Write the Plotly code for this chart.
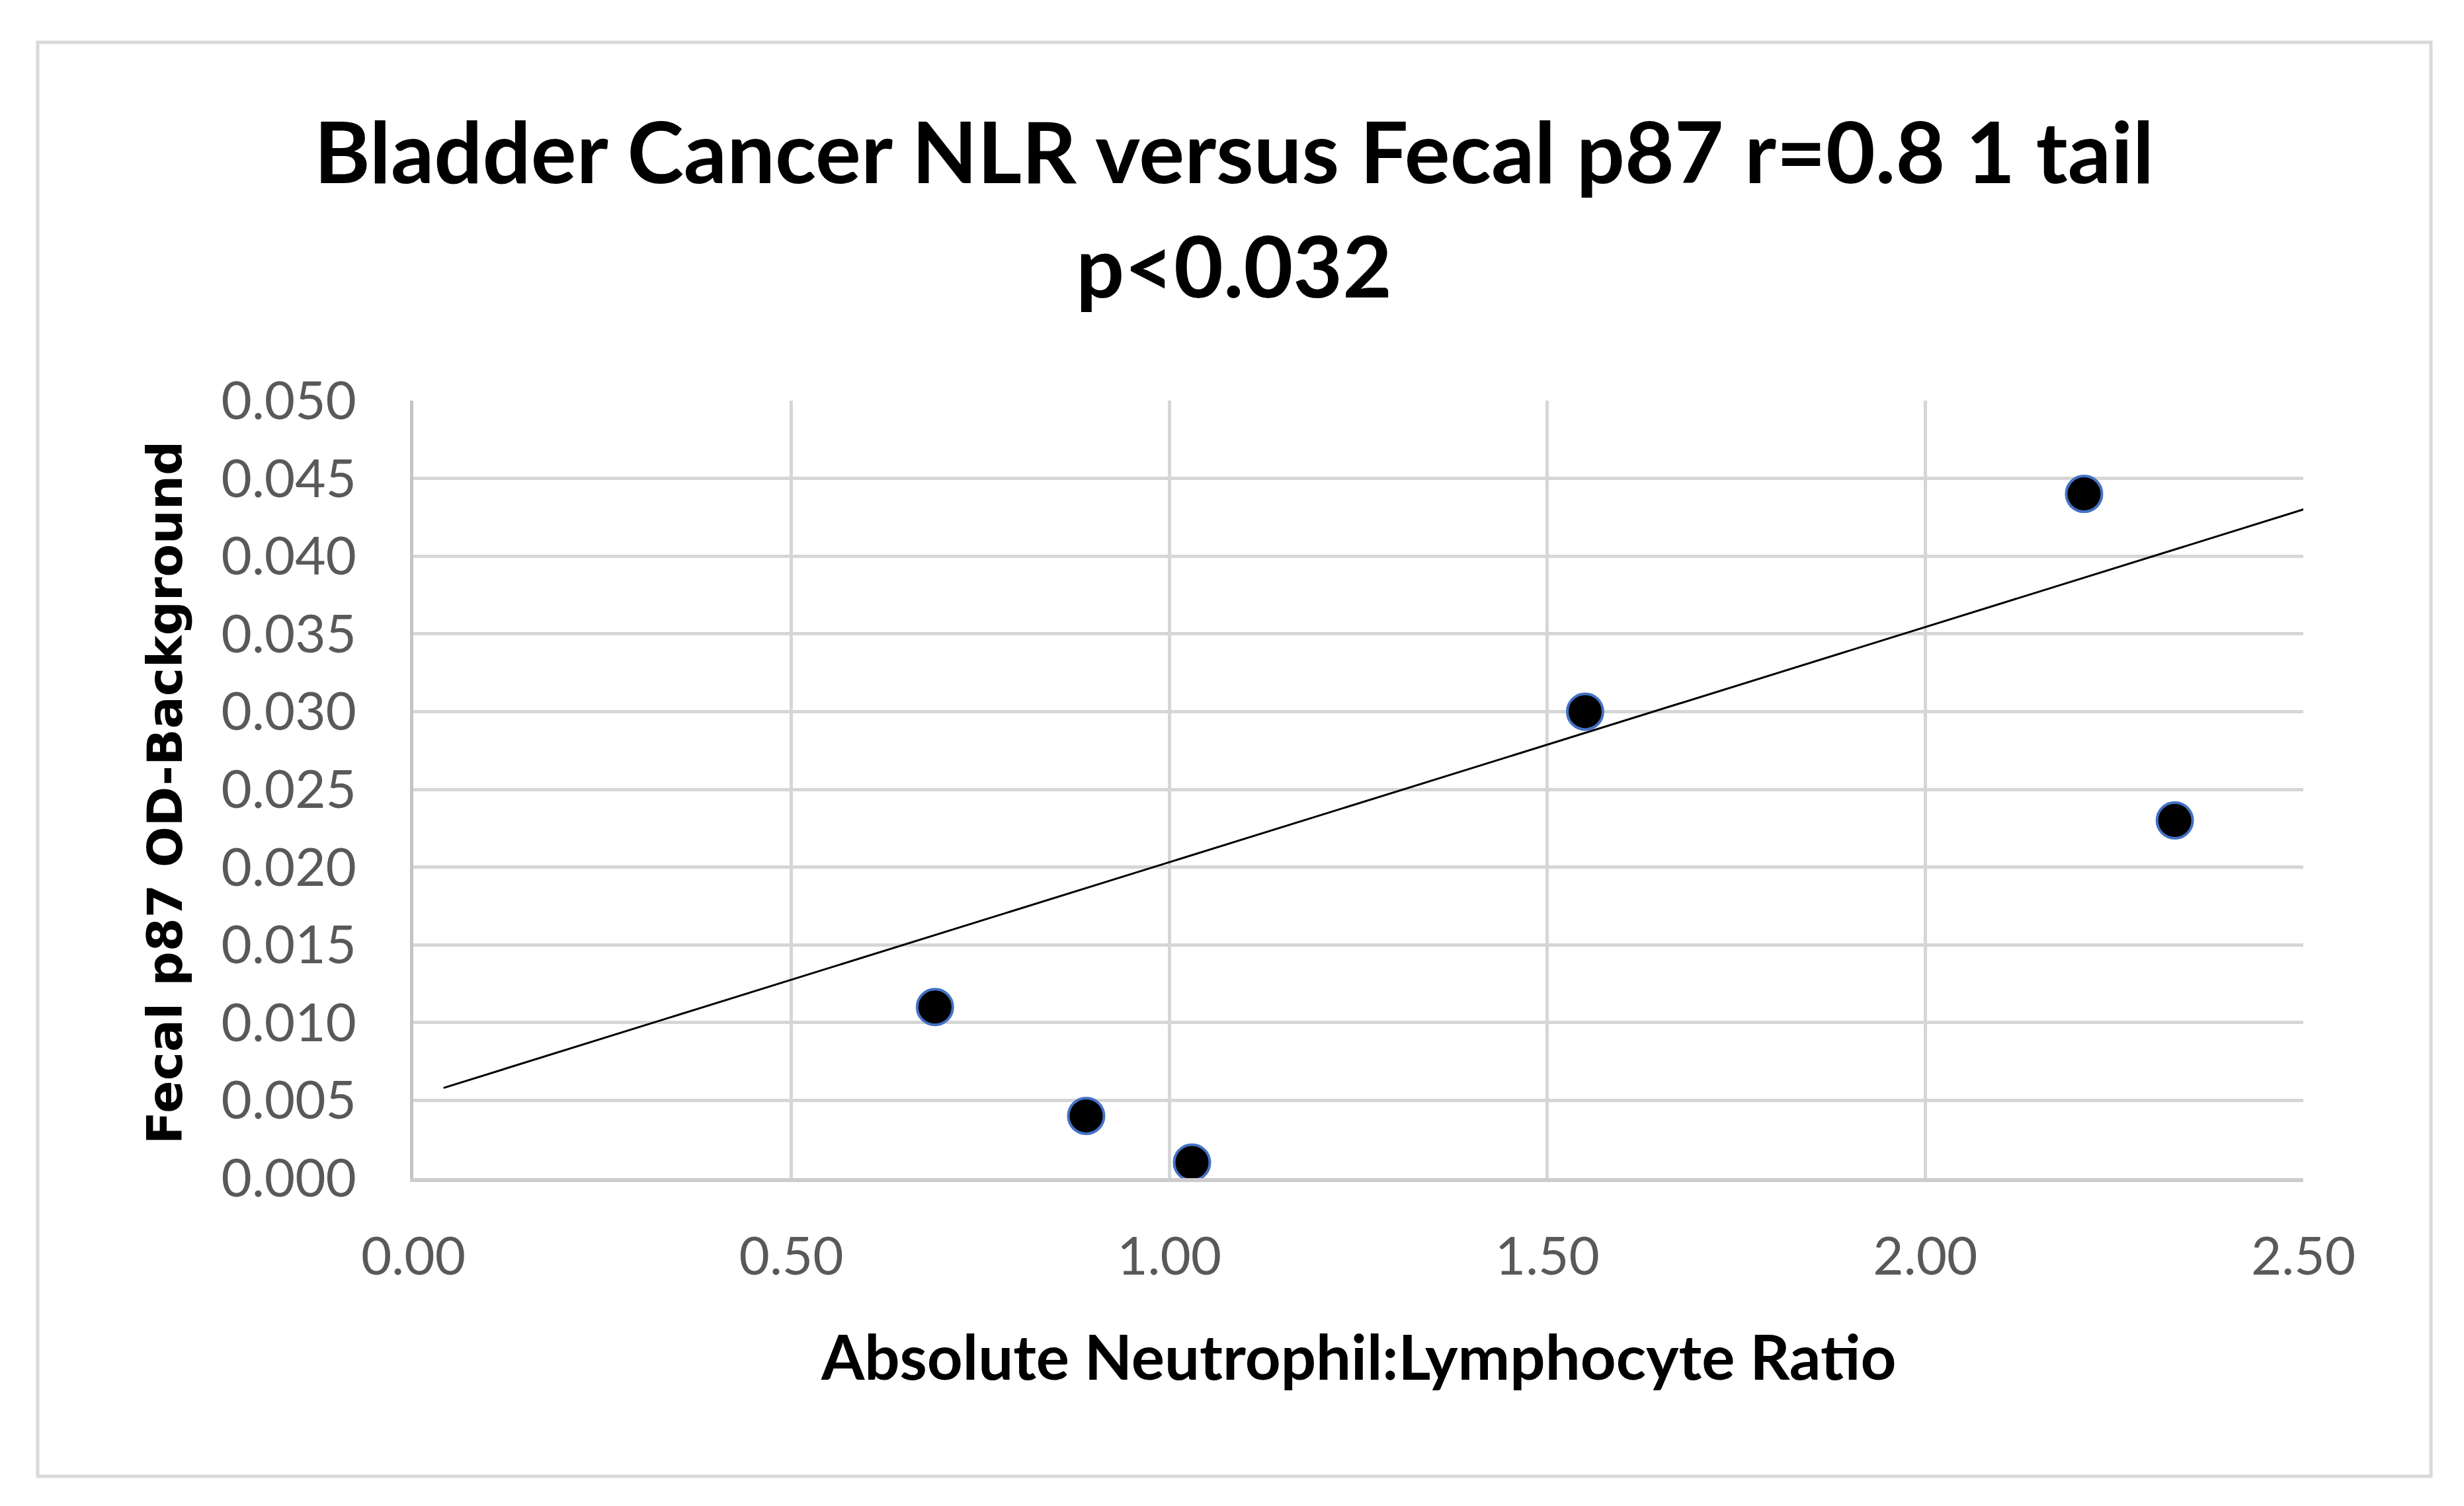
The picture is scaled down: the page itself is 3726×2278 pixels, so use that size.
import plotly.graph_objects as go

# ---- data ----
nlr = [0.69, 0.89, 1.03, 1.55, 2.21, 2.33]
p87 = [0.011, 0.004, 0.001, 0.030, 0.044, 0.023]

trend_x = [0.04, 2.52]
trend_y = [0.0058, 0.0433]

x_ticks = [0.0, 0.5, 1.0, 1.5, 2.0, 2.5]
x_tick_labels = ["0.00", "0.50", "1.00", "1.50", "2.00", "2.50"]
y_ticks = [0.000, 0.005, 0.010, 0.015, 0.020, 0.025, 0.030, 0.035, 0.040, 0.045, 0.050]
y_tick_labels = ["0.000", "0.005", "0.010", "0.015", "0.020", "0.025",
                 "0.030", "0.035", "0.040", "0.045", "0.050"]

title_line1 = "Bladder Cancer NLR versus Fecal p87 r=0.8 1 tail"
title_line2 = "p<0.032"
x_title = "Absolute Neutrophil:Lymphocyte Ratio"
y_title = "Fecal p87 OD-Background"

# page body has an 8px default margin; work in page pixels
OFF = 8
PAGE_W, PAGE_H = 3726, 2278
W, H = PAGE_W - OFF, PAGE_H - OFF
PLOT_L, PLOT_R, PLOT_T, PLOT_B = 625, 3483, 606, 1782  # page pixels
L, T = PLOT_L - OFF, PLOT_T - OFF
R, B = PAGE_W - PLOT_R, PAGE_H - PLOT_B
PW, PH = PLOT_R - PLOT_L, PLOT_B - PLOT_T


def px_x(px):
    return (px - PLOT_L) / PW


def px_y(py):
    return (PLOT_B - py) / PH


fig = go.Figure()

fig.add_trace(go.Scatter(
    x=trend_x, y=trend_y, mode="lines",
    line=dict(color="black", width=3),
    hoverinfo="skip", showlegend=False,
))

fig.add_trace(go.Scatter(
    x=nlr, y=p87, mode="markers",
    marker=dict(size=54, color="black", line=dict(color="#4472C4", width=4)),
    showlegend=False, cliponaxis=False,
))

tick_font = dict(family="Lato", size=80, color="#595959")

fig.update_xaxes(
    range=[0, 2.5], tickvals=x_ticks, ticktext=x_tick_labels,
    showgrid=True, gridcolor="#d6d6d6", gridwidth=5,
    showline=True, linecolor="#cccccc", linewidth=6,
    zeroline=False, ticks="", tickfont=tick_font, ticklabelstandoff=44,
)
fig.update_yaxes(
    range=[0, 0.05], tickvals=y_ticks, ticktext=y_tick_labels,
    showgrid=True, gridcolor="#d6d6d6", gridwidth=5,
    showline=True, linecolor="#c4c4c4", linewidth=5,
    zeroline=False, ticks="", tickfont=tick_font, ticklabelstandoff=65,
)

title_font = dict(family="Lato", size=129, color="black", weight="bold")

fig.add_annotation(text=title_line1, xref="paper", yref="paper",
                   x=px_x(1866), y=px_y(227), xanchor="center", yanchor="middle",
                   showarrow=False, font=title_font)
fig.add_annotation(text=title_line2, xref="paper", yref="paper",
                   x=px_x(1866), y=px_y(400), xanchor="center", yanchor="middle",
                   showarrow=False, font=title_font)
fig.add_annotation(text=x_title, xref="paper", yref="paper",
                   x=px_x(2054), y=px_y(2050), xanchor="center", yanchor="middle",
                   showarrow=False,
                   font=dict(family="Lato", size=94, color="black", weight="bold"))
fig.add_annotation(text=y_title, xref="paper", yref="paper",
                   x=px_x(249), y=px_y(1199), xanchor="center", yanchor="middle",
                   textangle=-90, showarrow=False,
                   font=dict(family="DejaVu Sans", size=73, color="black", weight="bold"))

# outer chart border
fig.add_shape(type="rect", xref="paper", yref="paper",
              x0=px_x(57), x1=px_x(3676), y0=px_y(2233), y1=px_y(64),
              line=dict(color="#d9d9d9", width=5), fillcolor="rgba(0,0,0,0)",
              layer="below")

fig.update_layout(
    width=W, height=H,
    margin=dict(l=L, r=R, t=T, b=B),
    paper_bgcolor="white", plot_bgcolor="white",
    showlegend=False,
)

fig.write_html("out.html")
